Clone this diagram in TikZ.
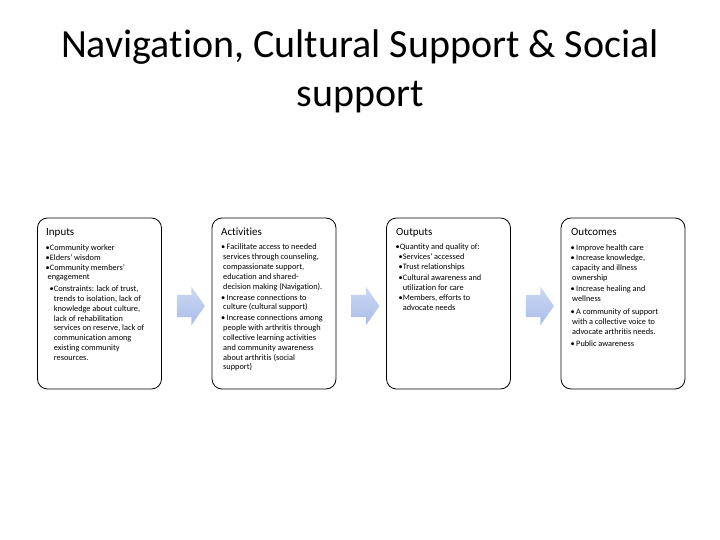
\documentclass[tikz,border=0pt]{standalone}
\usepackage{fontspec}
\setmainfont[Ligatures=NoCommon]{Carlito}
\usetikzlibrary{shapes.arrows}

\definecolor{arrowtop}{RGB}{204,216,243}
\definecolor{arrowbot}{RGB}{170,189,232}

\begin{document}
\begin{tikzpicture}[x=1pt, y=-1pt,
    box/.style={draw, rounded corners=10pt, minimum width=124pt, minimum height=171pt, line width=0.8pt},
    head/.style={anchor=base west, inner sep=0pt, font=\fontsize{11}{13}\selectfont},
    txt/.style={anchor=north west, inner sep=0pt, align=left, font=\fontsize{8.3}{9.8}\selectfont},
    arr/.style={single arrow, draw=none, single arrow head extend=8pt, single arrow tip angle=110,
      inner xsep=0pt, inner ysep=11pt, minimum height=28pt, top color=arrowtop, bottom color=arrowbot}]
  \useasboundingbox (0,0) rectangle (720,540);

  \node (title) at (360,30) [anchor=north, align=center, inner sep=0pt, font=\fontsize{40}{49}\selectfont]
    {Navigation, Cultural Support \& Social\\support};

  % the four columns
  \node (inputs) at (99.5,303.5) [box] {};
  \node (activities) at (274,303.5) [box] {};
  \node (outputs) at (448.5,303.5) [box] {};
  \node (outcomes) at (623,303.5) [box] {};

  \node (inputs-head) at (46,236) [head] {Inputs};
  \node (inputs-txt) at (45.5,244.5) [txt] {%
    \textbullet Community worker\\
    \textbullet Elders’ wisdom\\
    \textbullet Community members’\\
    \hspace*{2pt}engagement\\[2pt]
    \hspace*{4pt}\textbullet Constraints: lack of trust,\\
    \hspace*{4pt}\hphantom{\textbullet}trends to isolation, lack of\\
    \hspace*{4pt}\hphantom{\textbullet}knowledge about culture,\\
    \hspace*{4pt}\hphantom{\textbullet}lack of rehabilitation\\
    \hspace*{4pt}\hphantom{\textbullet}services on reserve, lack of\\
    \hspace*{4pt}\hphantom{\textbullet}communication among\\
    \hspace*{4pt}\hphantom{\textbullet}existing community\\
    \hspace*{4pt}\hphantom{\textbullet}resources.};

  \node (activities-head) at (221,236) [head] {Activities};
  \node (activities-txt) at (221,244) [txt] {%
    \textbullet\,Facilitate access to needed\\
    \hspace*{2pt}services through counseling,\\
    \hspace*{2pt}compassionate support,\\
    \hspace*{2pt}education and shared-\\
    \hspace*{2pt}decision making (Navigation).\\[1.2pt]
    \textbullet\,Increase connections to\\
    \hspace*{2pt}culture (cultural support)\\[1.2pt]
    \textbullet\,Increase connections among\\
    \hspace*{2pt}people with arthritis through\\
    \hspace*{2pt}collective learning activities\\
    \hspace*{2pt}and community awareness\\
    \hspace*{2pt}about arthritis (social\\
    \hspace*{2pt}support)};

  \node (outputs-head) at (396,236) [head] {Outputs};
  \node (outputs-txt) at (395.5,244) [txt] {%
    \textbullet Quantity and quality of:\\
    \hspace*{3pt}\textbullet Services’ accessed\\
    \hspace*{3pt}\textbullet Trust relationships\\[1pt]
    \hspace*{3pt}\textbullet Cultural awareness and\\
    \hspace*{3pt}\hphantom{\textbullet}utilization for care\\[1pt]
    \hspace*{3pt}\textbullet Members, efforts to\\
    \hspace*{3pt}\hphantom{\textbullet}advocate needs};

  \node (outcomes-head) at (571,236) [head] {Outcomes};
  \node (outcomes-txt) at (570.5,244.5) [txt] {%
    \textbullet\,Improve health care\\[0.5pt]
    \textbullet\,Increase knowledge,\\
    \hspace*{1.5pt}capacity and illness\\
    \hspace*{1.5pt}ownership\\[1.2pt]
    \textbullet\,Increase healing and\\
    \hspace*{1.5pt}wellness\\[4pt]
    \textbullet\,A community of support\\
    \hspace*{1.5pt}with a collective voice to\\
    \hspace*{1.5pt}advocate arthritis needs.\\[2pt]
    \textbullet\,Public awareness};

  % block arrows between the columns
  \node (arr1) at (187,306) [arr] {};
  \node (arr2) at (361.5,306) [arr] {};
  \node (arr3) at (536,306) [arr] {};
\end{tikzpicture}
\end{document}
